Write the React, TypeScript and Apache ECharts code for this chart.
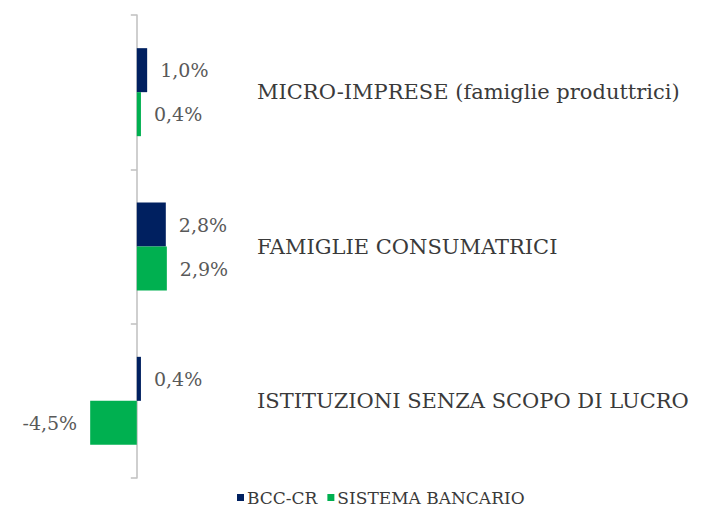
import React, { useEffect, useRef } from "react";
import * as echarts from "echarts";

// Categories, top to bottom
const categories = [
  "MICRO-IMPRESE (famiglie produttrici)",
  "FAMIGLIE CONSUMATRICI",
  "ISTITUZIONI SENZA SCOPO DI LUCRO",
];
const seriesNames = ["BCC-CR", "SISTEMA BANCARIO"];
const bccValues = [1.0, 2.8, 0.4];
const sistemaValues = [0.4, 2.9, -4.5];

const NAVY = "#002060";
const GREEN = "#00B050";
const FONT = "DejaVu Serif";

const fmt = (v: number) => v.toFixed(1).replace(".", ",") + "%";

const toData = (vals: number[]) =>
  vals.map((v) => ({
    value: v,
    label: { position: v < 0 ? "left" : "right" },
  }));

export default function App() {
  const ref = useRef<HTMLDivElement>(null);

  useEffect(() => {
    if (!ref.current) return;
    const chart = echarts.init(ref.current, null, { renderer: "svg" });
    const labelStyle = {
      show: true,
      distance: 13,
      fontFamily: FONT,
      fontSize: 19,
      color: "#595959",
      formatter: (p: any) => fmt(p.value),
    };
    chart.setOption({
      animation: false,
      backgroundColor: "#ffffff",
      grid: { left: 85, top: 15, width: 259, bottom: 28 },
      xAxis: {
        type: "value",
        min: -5,
        max: 20,
        show: false,
        splitLine: { show: false },
      },
      yAxis: {
        type: "category",
        inverse: true,
        data: categories,
        axisLine: { show: true, lineStyle: { color: "#bfbfbf", width: 1.5 } },
        axisTick: { show: true, length: 6, lineStyle: { color: "#bfbfbf", width: 1.5 } },
        axisLabel: {
          inside: true,
          margin: 172,
          align: "left",
          fontFamily: FONT,
          fontSize: 21,
          color: "#3a3a3a",
        },
        splitLine: { show: false },
      },
      legend: {
        left: 232,
        top: 484,
        itemWidth: 7,
        itemHeight: 7,
        itemGap: 10,
        icon: "rect",
        textStyle: { fontFamily: FONT, fontSize: 17, color: "#3a3a3a", padding: [0, 0, 0, -2] },
        data: seriesNames,
      },
      series: [
        {
          name: seriesNames[0],
          type: "bar",
          data: toData(bccValues),
          barWidth: 44,
          barGap: "0%",
          itemStyle: { color: NAVY },
          label: labelStyle,
        },
        {
          name: seriesNames[1],
          type: "bar",
          data: toData(sistemaValues),
          barWidth: 44,
          barGap: "0%",
          itemStyle: { color: GREEN },
          label: labelStyle,
        },
      ],
    });
    return () => chart.dispose();
  }, []);

  return (
    <div
      ref={ref}
      style={{ position: "fixed", left: 0, top: 0, width: 707, height: 506 }}
    />
  );
}
